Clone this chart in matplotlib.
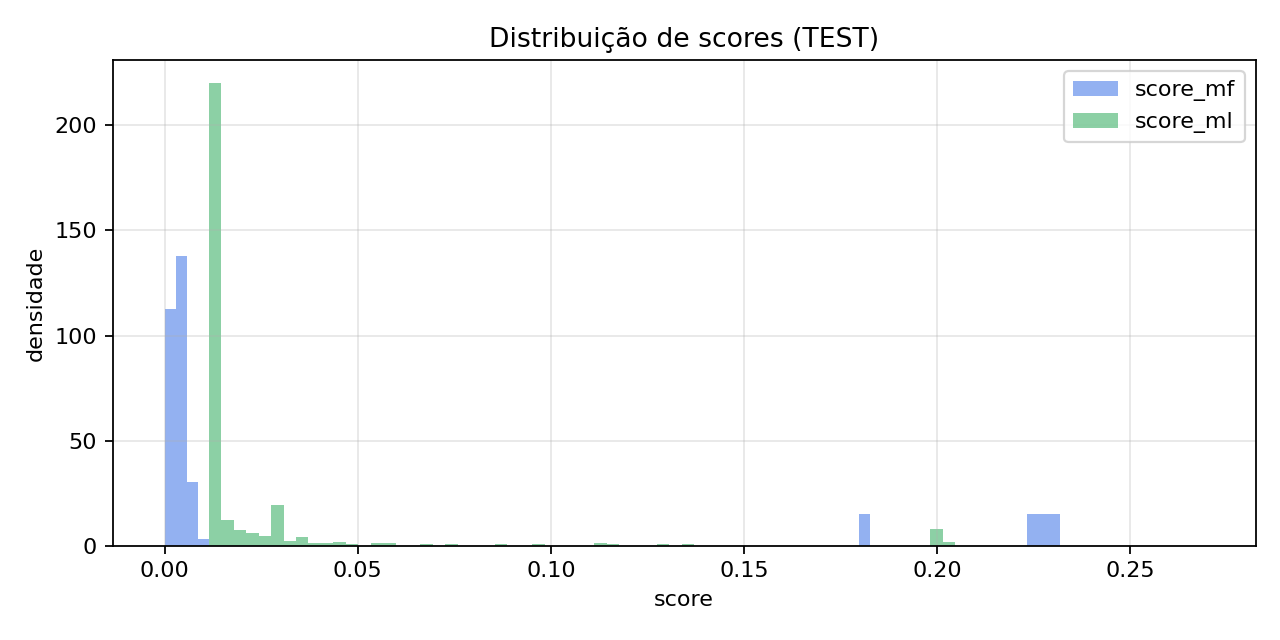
import numpy as np
import matplotlib
matplotlib.use("Agg")
import matplotlib.pyplot as plt

# histogram densities (80 bins per series)
n_bins = 80

mf_range = (0.0, 0.2319)
mf_bin_idx = [0, 1, 2, 3, 62, 77, 78, 79]
mf_density = [112.7, 137.8, 30.5, 3.3, 15.0, 15.0, 15.0, 15.0]

ml_range = (0.0115, 0.269)
ml_bin_idx = [0, 1, 2, 3, 4, 5, 6, 7, 8, 9, 10, 11, 13, 14, 17, 19, 23, 26,
              31, 32, 36, 38, 58, 59]
ml_density = [220.0, 12.4, 7.6, 6.2, 4.75, 19.5, 2.4, 4.3, 1.2, 1.6, 2.0, 0.8,
              1.2, 1.2, 0.8, 0.8, 0.8, 0.8, 1.2, 0.8, 0.8, 0.8, 8.1, 2.0]

series = [
    ("score_mf", mf_range, mf_bin_idx, mf_density, "#4b7de9"),
    ("score_ml", ml_range, ml_bin_idx, ml_density, "#3fb169"),
]

fig, ax = plt.subplots(figsize=(8, 4), dpi=160)
fig.subplots_adjust(left=0.088, right=0.981, top=0.906, bottom=0.147)

for name, rng, idx, dens, col in series:
    edges = np.linspace(rng[0], rng[1], n_bins + 1)
    weights = np.zeros(n_bins)
    weights[idx] = dens
    ax.hist(edges[:-1], bins=edges, weights=weights, color=col, alpha=0.6, label=name)

ax.set_title("Distribuição de scores (TEST)")
ax.set_xlabel("score")
ax.set_ylabel("densidade")
ax.grid(alpha=0.3)
ax.legend(loc="upper right")

fig.savefig("out.png", dpi=160)
